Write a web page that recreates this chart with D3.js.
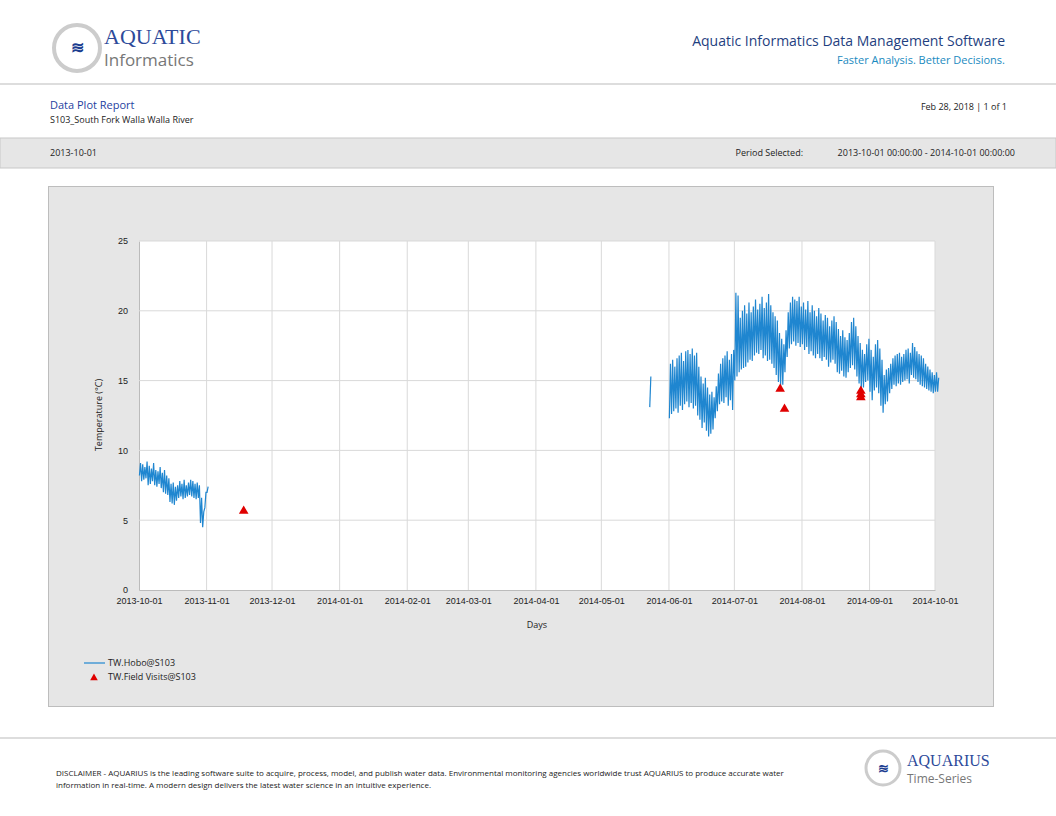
<!DOCTYPE html>
<html><head><meta charset="utf-8">
<script src="https://cdn.jsdelivr.net/npm/d3@7"></script>
<style>body{margin:0;background:#fff}svg{font-family:"Liberation Sans Narrow","Open Sans",sans-serif}</style>
</head><body><svg id="c" width="1056" height="816"></svg>
<script>
// daily min / max readings, TW.Hobo@S103
const fallStart = "2013-10-01"
const fallMax = [9.1,9.0,8.8,9.2,8.9,8.7,9.1,8.6,8.5,8.8,8.4,8.6,8.2,8.0,7.6,7.7,7.4,7.5,7.8,7.6,7.9,7.5,7.7,7.9,7.8,7.6,7.7,7.5,6.6,5.6,7.0,7.4]
const fallMin = [8.2,7.8,7.9,8.0,7.5,7.6,7.8,7.5,7.4,7.6,7.3,7.0,6.9,6.8,6.3,6.2,6.1,6.4,6.6,6.7,6.5,6.6,6.7,6.8,6.7,6.6,6.5,6.6,4.8,4.5,5.9,7.0]
const mayStart = "2014-05-23"
const mayMax = [15.3]
const mayMin = [13.1]
const sumStart = "2014-06-01"
const sumMax = [16.2,16.5,16.0,16.6,16.8,17.0,16.4,17.1,17.2,16.9,17.3,16.8,17.0,16.0,15.3,14.8,15.2,14.5,14.0,14.2,13.8,14.6,15.5,16.2,16.6,16.8,17.1,16.5,16.9,17.2,
  21.3,21.1,19.5,20.0,20.4,19.8,20.6,19.9,20.3,20.8,20.1,20.5,21.0,20.2,20.6,21.2,20.4,19.9,19.6,19.3,18.4,18.0,17.6,18.6,19.9,20.6,21.0,20.8,20.7,21.0,20.3,
  20.6,20.1,20.7,19.9,20.4,20.0,19.6,20.2,19.8,19.3,19.7,19.5,18.9,19.3,19.6,19.2,18.7,18.2,18.6,18.1,17.9,18.4,19.2,19.5,18.9,18.2,17.7,17.2,16.9,17.6,18.0,
  17.2,16.7,17.6,17.9,17.3,16.5,15.4,15.8,15.9,16.2,16.6,16.8,16.9,17.0,16.7,16.9,17.2,17.3,17.0,17.7,17.4,17.1,16.9,16.8,16.6,16.2,16.0,15.8,15.6,15.4,15.6,15.2]
const sumMin = [12.3,12.6,12.8,13.0,12.7,13.2,12.9,13.3,13.5,13.1,13.4,13.0,13.2,12.5,12.2,11.6,12.0,11.4,11.0,11.2,11.5,12.3,12.8,13.3,13.5,13.4,13.8,13.2,13.6,12.9,
  15.0,15.3,15.6,15.8,15.9,16.0,16.3,16.5,16.4,16.8,17.0,16.9,17.2,16.6,16.8,16.4,16.5,16.2,15.9,15.4,14.9,14.6,14.7,15.6,16.7,17.3,17.6,17.8,17.5,17.7,17.4,
  17.6,17.2,17.4,16.9,17.1,16.8,16.6,16.9,16.6,16.4,16.7,16.5,16.0,16.3,16.5,16.2,15.6,15.5,15.7,15.3,15.2,15.6,15.9,16.1,15.8,15.3,14.8,14.4,14.5,14.9,15.0,
  14.2,13.6,14.3,14.5,14.1,13.2,12.7,13.3,13.5,14.1,14.4,14.7,14.6,14.8,14.7,14.9,15.0,15.1,14.8,15.4,15.2,15.1,14.9,14.7,14.6,14.5,14.4,14.3,14.2,14.1,14.2,14.2]
const visitDates = ["2013-11-18","2014-07-22","2014-07-24","2014-08-28","2014-08-28","2014-08-28"]
const visitValues = [5.66,14.4,12.97,14.25,14.0,13.8]
const xTicks = ["2013-10-01","2013-11-01","2013-12-01","2014-01-01","2014-02-01","2014-03-01","2014-04-01","2014-05-01","2014-06-01","2014-07-01","2014-08-01","2014-09-01","2014-10-01"]
const yTicks = [0,5,10,15,20,25]

const parse = d3.utcParse("%Y-%m-%d")
const DAY = 864e5
function series(start, mins, maxs) {
  let t0 = parse(start).getTime(), pts = []
  mins.forEach((m, i) => {
    pts.push({t: new Date(t0 + (i + 0.2) * DAY), v: m})
    pts.push({t: new Date(t0 + (i + 0.7) * DAY), v: maxs[i]})
  })
  return pts
}
const segments = [series(fallStart, fallMin, fallMax), series(mayStart, mayMin, mayMax), series(sumStart, sumMin, sumMax)]

const svg = d3.select('#c')
const blue = '#1a3c8f'

// header
svg.append('circle').attr('cx', 77).attr('cy', 48).attr('r', 23).attr('fill', '#fff').attr('stroke', '#ccc').attr('stroke-width', 4)
svg.append('text').attr('x', 77).attr('y', 53).attr('text-anchor', 'middle').attr('fill', blue).style('font-size', '16px').style('font-weight', 'bold').text('≋')
svg.append('text').attr('x', 104).attr('y', 44).attr('fill', '#2d4a9a').style('font-size', '22px').style('font-family', 'Liberation Serif, serif').text('AQUATIC')
svg.append('text').attr('x', 104).attr('y', 66).attr('fill', '#777').style('font-size', '17px').text('Informatics')
svg.append('text').attr('x', 1005).attr('y', 46).attr('text-anchor', 'end').attr('fill', '#1f3f7f').style('font-size', '14px').text('Aquatic Informatics Data Management Software')
svg.append('text').attr('x', 1005).attr('y', 64).attr('text-anchor', 'end').attr('fill', '#1a8ac0').style('font-size', '11px').text('Faster Analysis. Better Decisions.')
svg.append('line').attr('x1', 0).attr('x2', 1056).attr('y1', 84).attr('y2', 84).attr('stroke', '#bbb')
svg.append('text').attr('x', 50).attr('y', 109).attr('fill', '#1f3f9f').style('font-size', '11px').text('Data Plot Report')
svg.append('text').attr('x', 50).attr('y', 123).attr('fill', '#222').style('font-size', '9px').text('S103_South Fork Walla Walla River')
svg.append('text').attr('x', 1007).attr('y', 110).attr('text-anchor', 'end').attr('fill', '#222').style('font-size', '9px').text('Feb 28, 2018 | 1 of 1')
svg.append('rect').attr('x', 0).attr('y', 138).attr('width', 1056).attr('height', 30).attr('fill', '#e6e6e6').attr('stroke', '#c8c8c8')
svg.append('text').attr('x', 50).attr('y', 156).attr('fill', '#222').style('font-size', '9px').text('2013-10-01')
svg.append('text').attr('x', 803).attr('y', 156).attr('text-anchor', 'end').attr('fill', '#222').style('font-size', '9px').text('Period Selected:')
svg.append('text').attr('x', 1015).attr('y', 156).attr('text-anchor', 'end').attr('fill', '#222').style('font-size', '9px').text('2013-10-01 00:00:00 - 2014-10-01 00:00:00')

// chart panel
svg.append('rect').attr('x', 48.5).attr('y', 186.5).attr('width', 945).attr('height', 520).attr('fill', '#e6e6e6').attr('stroke', '#bdbdbd')
const x = d3.scaleUtc().domain([parse(xTicks[0]), parse(xTicks[xTicks.length - 1])]).range([139, 935])
const y = d3.scaleLinear().domain([0, 25]).range([590, 241])
svg.append('rect').attr('x', 139).attr('y', 241).attr('width', 796).attr('height', 349).attr('fill', '#fff')

const gx = svg.append('g').attr('transform', 'translate(0,590)')
  .call(d3.axisBottom(x).tickValues(xTicks.map(parse)).tickFormat(d3.utcFormat('%Y-%m-%d')).tickSize(0).tickPadding(8))
gx.select('.domain').attr('stroke', '#bbb')
gx.selectAll('text').style('font-size', '9px').attr('fill', '#222').style('font-family', 'inherit')
const gy = svg.append('g').attr('transform', 'translate(139,0)')
  .call(d3.axisLeft(y).tickValues(yTicks).tickSize(0).tickPadding(11))
gy.select('.domain').attr('stroke', '#bbb')
gy.selectAll('text').style('font-size', '9px').attr('fill', '#222').style('font-family', 'inherit')

svg.append('g').selectAll('line').data(xTicks.slice(1)).join('line')
  .attr('x1', d => x(parse(d))).attr('x2', d => x(parse(d))).attr('y1', 241).attr('y2', 590).attr('stroke', '#d9d9d9')
svg.append('g').selectAll('line').data(yTicks.slice(1)).join('line')
  .attr('x1', 139).attr('x2', 935).attr('y1', d => y(d)).attr('y2', d => y(d)).attr('stroke', '#d9d9d9')

svg.append('text').attr('transform', 'translate(102,415) rotate(-90)').attr('text-anchor', 'middle').attr('fill', '#222').style('font-size', '9px').text('Temperature (°C)')
svg.append('text').attr('x', 537).attr('y', 628).attr('text-anchor', 'middle').attr('fill', '#222').style('font-size', '9px').text('Days')

const line = d3.line().x(d => x(d.t)).y(d => y(d.v))
svg.append('g').selectAll('path').data(segments).join('path')
  .attr('d', line).attr('fill', 'none').attr('stroke', '#1f86d0').attr('stroke-width', 1.2)

const tri = d3.symbol().type(d3.symbolTriangle).size(40)
svg.append('g').selectAll('path').data(visitDates).join('path')
  .attr('d', tri).attr('fill', '#e00000')
  .attr('transform', (d, i) => `translate(${x(parse(d))},${y(visitValues[i])})`)

// legend
svg.append('line').attr('x1', 84).attr('x2', 105).attr('y1', 663).attr('y2', 663).attr('stroke', '#1f86d0').attr('stroke-width', 1.2)
svg.append('text').attr('x', 108).attr('y', 666).attr('fill', '#222').style('font-size', '9px').text('TW.Hobo@S103')
svg.append('path').attr('d', d3.symbol().type(d3.symbolTriangle).size(25)).attr('fill', '#e00000').attr('transform', 'translate(94,678)')
svg.append('text').attr('x', 108).attr('y', 680).attr('fill', '#222').style('font-size', '9px').text('TW.Field Visits@S103')

// footer
svg.append('line').attr('x1', 0).attr('x2', 1056).attr('y1', 738).attr('y2', 738).attr('stroke', '#bbb')
svg.append('text').attr('x', 56).attr('y', 776).attr('fill', '#222').style('font-size', '8px').text('DISCLAIMER - AQUARIUS is the leading software suite to acquire, process, model, and publish water data. Environmental monitoring agencies worldwide trust AQUARIUS to produce accurate water')
svg.append('text').attr('x', 56).attr('y', 788).attr('fill', '#222').style('font-size', '8px').text('information in real-time. A modern design delivers the latest water science in an intuitive experience.')
svg.append('circle').attr('cx', 883).attr('cy', 768).attr('r', 17).attr('fill', '#fff').attr('stroke', '#ccc').attr('stroke-width', 3)
svg.append('text').attr('x', 883).attr('y', 773).attr('text-anchor', 'middle').attr('fill', blue).style('font-size', '13px').style('font-weight', 'bold').text('≋')
svg.append('text').attr('x', 907).attr('y', 766).attr('fill', '#2d4a9a').style('font-size', '16px').style('font-family', 'Liberation Serif, serif').text('AQUARIUS')
svg.append('text').attr('x', 907).attr('y', 783).attr('fill', '#777').style('font-size', '12px').text('Time-Series')
</script></body></html>
